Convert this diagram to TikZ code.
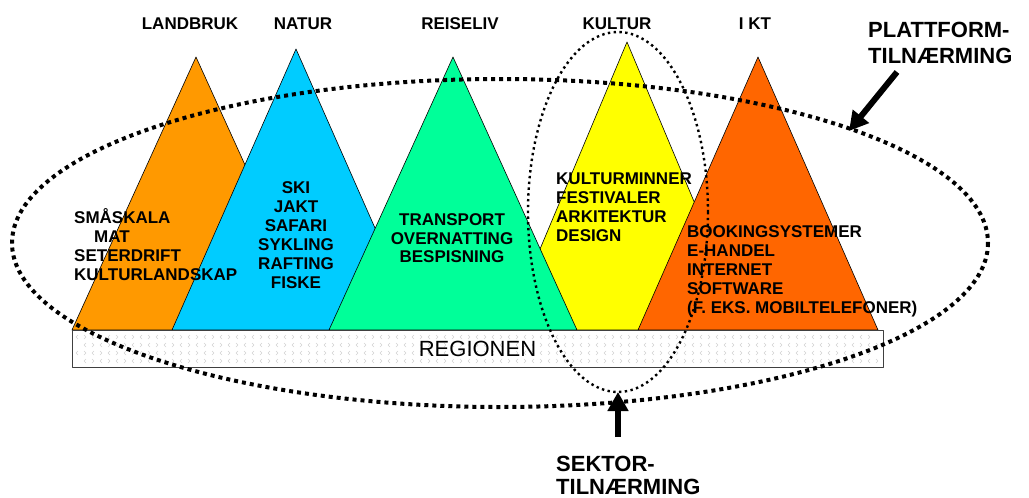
\documentclass[tikz,border=0pt]{standalone}
\usepackage{fontspec}
\setmainfont{Liberation Sans}
\usetikzlibrary{arrows.meta}
\definecolor{landbruk}{HTML}{FF9900}
\definecolor{natur}{HTML}{00CCFF}
\definecolor{reiseliv}{HTML}{00FF99}
\definecolor{kultur}{HTML}{FFFF00}
\definecolor{ikt}{HTML}{FF6600}
\tikzset{
	peak/.style={draw,line width=.6pt},
	word/.style={inner sep=0pt},
	chev/.style={gray!35,line width=.6pt},
	bigdots/.style={line width=4pt,dash pattern=on 4pt off 4pt},
	smalldots/.style={line width=2.4pt,dash pattern=on 2.4pt off 3.4pt},
	bigarrow/.style={line width=6pt,-{Triangle[width=20pt,length=19pt]}}
}
\begin{document}
\begin{tikzpicture}[x=1pt,y=-1pt,line join=round,font=\bfseries\fontsize{17}{19}\selectfont]
	\useasboundingbox (0,0) rectangle (1029,498);
	\def\h{330}
	% the five peaks
	\foreach \ax/\ay/\w/\c in {196/57/124/landbruk,296/49/124/natur,627/42/121/kultur,453/57/124/reiseliv,758/57/120/ikt}
	\draw[peak,fill=\c] (\ax,\ay)--(\ax-\w,\h)--(\ax+\w,\h)--cycle;
	% sector names
	\foreach \t/\x/\n in {LANDBRUK/190/landbruk,NATUR/303/natur,REISELIV/460/reiseliv,KULTUR/617/kultur,I KT/755/ikt}
	\node[word,anchor=base] (\n_0) at (\x,29) {\t};
	% contents
	\foreach \t/\x [count=\i] in {SMÅSKALA/74,MAT/94,SETERDRIFT/74,KULTURLANDSKAP/74}
	\node[word,anchor=base west] (landbruk_\i) at (\x,204+19*\i) {\t};
	\foreach \t [count=\i] in {SKI,JAKT,SAFARI,SYKLING,RAFTING,FISKE}
	\node[word,anchor=base] (natur_\i) at (296,174+19*\i) {\t};
	\foreach \t [count=\i] in {TRANSPORT,OVERNATTING,BESPISNING}
	\node[word,anchor=base] (reiseliv_\i) at (452,207+18.5*\i) {\t};
	\foreach \t [count=\i] in {KULTURMINNER,FESTIVALER,ARKITEKTUR,DESIGN}
	\node[word,anchor=base west] (kultur_\i) at (556,165+19.2*\i) {\t};
	\foreach \t [count=\i] in {BOOKINGSYSTEMER,E-HANDEL,INTERNET,SOFTWARE,(F. EKS. MOBILTELEFONER)}
	\node[word,anchor=base west] (ikt_\i) at (687,218+19*\i) {\t};
	% the region
	\fill[white] (72,\h) rectangle (883,367);
	\foreach \y/\o in {337/0,345/8,353/0,361/8}
	\foreach \x in {76,92,...,860}{
		\draw[chev] (\x+\o+2,\y-2)--(\x+\o,\y)--(\x+\o+2,\y+2);
		\draw[chev] (\x+\o+8,\y-2)--(\x+\o+10,\y)--(\x+\o+8,\y+2);
	}
	\node[draw=black!75,line width=.8pt,minimum width=811pt,minimum height=37pt,
	font=\mdseries\fontsize{22}{26}\selectfont] (region) at (477.5,348.5) {REGIONEN};
	% the two approaches
	\draw[bigdots] (500,243) ellipse [x radius=488,y radius=164];
	\draw[smalldots] (618,212) ellipse [x radius=90,y radius=180];
	\node[word,anchor=base west,font=\bfseries\fontsize{22}{26}\selectfont] (plattform_1) at (868,37) {PLATTFORM-};
	\node[word,anchor=base west,font=\bfseries\fontsize{22}{26}\selectfont] (plattform_2) at (868,63) {TILNÆRMING};
	\node[word,anchor=base west,font=\bfseries\fontsize{22}{26}\selectfont] (sektor_1) at (556,471) {SEKTOR-};
	\node[word,anchor=base west,font=\bfseries\fontsize{22}{26}\selectfont] (sektor_2) at (556,494) {TILNÆRMING};
	\path
	(897,72) coordinate (P_1)
	(849,131) coordinate (P_2)
	(618,437) coordinate (S_1)
	(618,392) coordinate (S_2)
	;
	\draw[bigarrow] (P_1)--(P_2);
	\draw[bigarrow] (S_1)--(S_2);
\end{tikzpicture}
\end{document}
